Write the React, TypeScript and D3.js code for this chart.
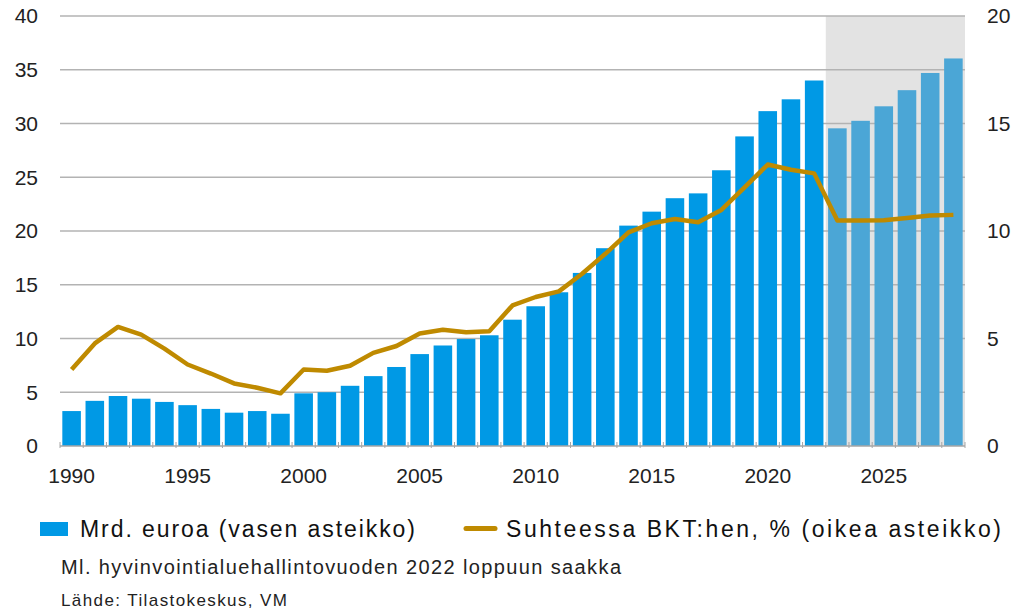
import React, { useEffect, useRef } from 'react';
import * as d3 from 'd3';

// vuodet 1990-2028
const years = d3.range(1990, 2029);
const forecastFrom = 2023;

// Mrd. euroa (vasen asteikko)
const billions = [
  3.25, 4.2, 4.65, 4.4, 4.1, 3.8, 3.45, 3.1, 3.25, 3.0,
  4.9, 5.0, 5.6, 6.5, 7.35, 8.55, 9.35, 9.95, 10.3, 11.75,
  13.0, 14.3, 16.1, 18.4, 20.5, 21.8, 23.05, 23.5, 25.65, 28.8,
  31.15, 32.25, 34.0, 29.55, 30.25, 31.6, 33.1, 34.7, 36.05,
];

// Suhteessa BKT:hen, % (oikea asteikko)
const gdpShare = [
  3.56, 4.77, 5.54, 5.18, 4.53, 3.79, 3.37, 2.91, 2.71, 2.45,
  3.56, 3.5, 3.73, 4.33, 4.65, 5.23, 5.41, 5.29, 5.34, 6.54,
  6.93, 7.19, 8.01, 8.94, 9.94, 10.36, 10.56, 10.41, 10.98, 12.03,
  13.09, 12.85, 12.68, 10.49, 10.49, 10.5, 10.6, 10.72, 10.75,
];

const leftTicks = [0, 5, 10, 15, 20, 25, 30, 35, 40];
const rightTicks = [0, 5, 10, 15, 20];
const yearLabels = [1990, 1995, 2000, 2005, 2010, 2015, 2020, 2025];

const FONT = '"Liberation Sans", Arial, sans-serif';

const App = () => {
  const ref = useRef<SVGSVGElement | null>(null);

  useEffect(() => {
    document.body.style.margin = '0';
    const svg = d3.select(ref.current);
    svg.selectAll('*').remove();

    const left = 60;
    const right = 965;
    const top = 16;
    const bottom = 446;

    const x = d3
      .scaleBand<number>()
      .domain(years)
      .range([left, right])
      .paddingInner(0.2)
      .paddingOuter(0.1);
    const yL = d3.scaleLinear().domain([0, 40]).range([bottom, top]);
    const yR = d3.scaleLinear().domain([0, 20]).range([bottom, top]);
    const step = x.step();
    const cx = (yr: number) => (x(yr) as number) + x.bandwidth() / 2;

    // ennusteen tausta
    const shadeX = (x(forecastFrom) as number) - (step * 0.2) / 2;
    svg
      .append('rect')
      .attr('x', shadeX)
      .attr('y', top)
      .attr('width', right - shadeX)
      .attr('height', bottom - top)
      .attr('fill', '#e3e3e3');

    // vaakaviivat
    svg
      .selectAll('.grid')
      .data(leftTicks.filter(d => d > 0))
      .enter()
      .append('line')
      .attr('x1', left)
      .attr('x2', right)
      .attr('y1', d => yL(d))
      .attr('y2', d => yL(d))
      .attr('stroke', '#b3b3b3')
      .attr('stroke-width', 1.5);

    // pylväät
    svg
      .selectAll('.bar')
      .data(years)
      .enter()
      .append('rect')
      .attr('x', d => x(d) as number)
      .attr('width', x.bandwidth())
      .attr('y', (d, i) => yL(billions[i]))
      .attr('height', (d, i) => bottom - yL(billions[i]))
      .attr('fill', d => (d >= forecastFrom ? '#4ba6d6' : '#0099e5'));

    // x-akseli
    svg
      .append('line')
      .attr('x1', left)
      .attr('x2', right)
      .attr('y1', bottom)
      .attr('y2', bottom)
      .attr('stroke', '#a6a6a6')
      .attr('stroke-width', 1.5);

    svg
      .selectAll('.tick')
      .data(d3.range(years.length + 1))
      .enter()
      .append('line')
      .attr('x1', i => left + i * step)
      .attr('x2', i => left + i * step)
      .attr('y1', bottom - 4)
      .attr('y2', bottom + 2)
      .attr('stroke', '#a6a6a6')
      .attr('stroke-width', 1);

    // viiva
    const line = d3
      .line<number>()
      .x((d, i) => cx(years[i]))
      .y(d => yR(d));
    svg
      .append('path')
      .datum(gdpShare)
      .attr('d', line)
      .attr('fill', 'none')
      .attr('stroke', '#bf8a00')
      .attr('stroke-width', 4.5)
      .attr('stroke-linejoin', 'round');

    // akselien tekstit
    svg
      .selectAll('.lt')
      .data(leftTicks)
      .enter()
      .append('text')
      .attr('x', 38)
      .attr('y', d => yL(d))
      .attr('dy', '0.35em')
      .attr('text-anchor', 'end')
      .style('font-family', FONT)
      .style('font-size', '21px')
      .attr('fill', '#222')
      .text(d => d);

    svg
      .selectAll('.rt')
      .data(rightTicks)
      .enter()
      .append('text')
      .attr('x', 987)
      .attr('y', d => yR(d))
      .attr('dy', '0.35em')
      .attr('text-anchor', 'start')
      .style('font-family', FONT)
      .style('font-size', '21px')
      .attr('fill', '#222')
      .text(d => d);

    svg
      .selectAll('.xt')
      .data(yearLabels)
      .enter()
      .append('text')
      .attr('x', d => cx(d))
      .attr('y', 483)
      .attr('text-anchor', 'middle')
      .style('font-family', FONT)
      .style('font-size', '21px')
      .attr('fill', '#222')
      .text(d => d);

    // selite
    svg
      .append('rect')
      .attr('x', 40)
      .attr('y', 522)
      .attr('width', 28)
      .attr('height', 14)
      .attr('fill', '#0099e5');
    svg
      .append('text')
      .attr('x', 80)
      .attr('y', 537)
      .attr('textLength', 335)
      .style('font-family', FONT)
      .style('font-size', '23px')
      .attr('fill', '#111')
      .text('Mrd. euroa (vasen asteikko)');

    svg
      .append('line')
      .attr('x1', 466)
      .attr('x2', 495)
      .attr('y1', 528.5)
      .attr('y2', 528.5)
      .attr('stroke', '#bf8a00')
      .attr('stroke-width', 5)
      .attr('stroke-linecap', 'round');
    svg
      .append('text')
      .attr('x', 506)
      .attr('y', 537)
      .attr('textLength', 495)
      .style('font-family', FONT)
      .style('font-size', '23px')
      .attr('fill', '#111')
      .text('Suhteessa BKT:hen, % (oikea asteikko)');

    // alaviitteet
    svg
      .append('text')
      .attr('x', 61)
      .attr('y', 574)
      .attr('textLength', 560)
      .style('font-family', FONT)
      .style('font-size', '20px')
      .attr('fill', '#222')
      .text('Ml. hyvinvointialuehallintovuoden 2022 loppuun saakka');
    svg
      .append('text')
      .attr('x', 61)
      .attr('y', 606)
      .attr('textLength', 226)
      .style('font-family', FONT)
      .style('font-size', '17px')
      .attr('fill', '#222')
      .text('Lähde: Tilastokeskus, VM');
  }, []);

  return <svg ref={ref} width={1018} height={614} style={{ display: 'block', background: '#fff' }} />;
};

export default App;
